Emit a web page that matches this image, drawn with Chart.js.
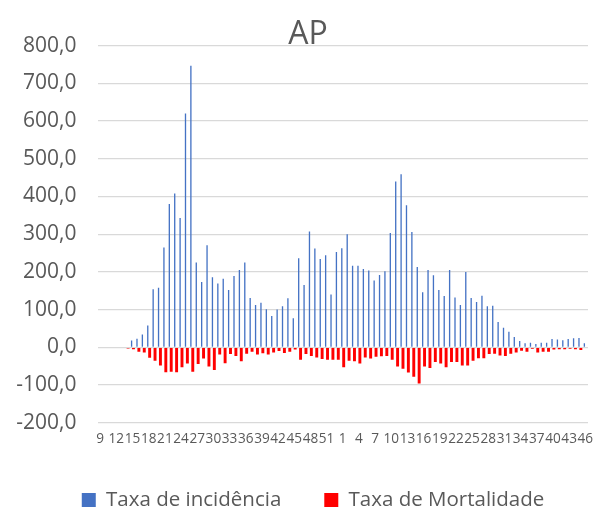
<!DOCTYPE html>
<html>
<head>
<meta charset="utf-8">
<script src="https://cdn.jsdelivr.net/npm/chart.js@4/dist/chart.umd.min.js"></script>
<style>
    body { margin: 0; background: #fff; }
    #box { width: 603px; height: 512px; }
</style>
</head>
<body>
<div id="box"><canvas id="apChart"></canvas></div>
<script>
/* ---------- DATA ---------- */
let weeks = [
    "9", "10", "11", "12", "13", "14", "15", "16", "17", "18", "19", "20", "21", "22", "23",
    "24", "25", "26", "27", "28", "29", "30", "31", "32", "33", "34", "35", "36", "37", "38",
    "39", "40", "41", "42", "43", "44", "45", "46", "47", "48", "49", "50", "51", "52", "53",
    "1", "2", "3", "4", "5", "6", "7", "8", "9", "10", "11", "12", "13", "14", "15", "16",
    "17", "18", "19", "20", "21", "22", "23", "24", "25", "26", "27", "28", "29", "30", "31",
    "32", "33", "34", "35", "36", "37", "38", "39", "40", "41", "42", "43", "44", "45", "46"
];

let incidencia = [
    null, null, null, null, null, null, 18, 23, 34, 58, 154, 158, 265, 380, 408,
    343, 620, 747, 225, 173, 271, 186, 169, 182, 152, 189, 205, 225, 131, 112,
    118, 101, 83, 100, 109, 130, 77, 236, 165, 307, 262, 234, 244, 140, 253,
    263, 300, 216, 216, 208, 204, 177, 192, 202, 303, 440, 459, 377, 306, 213, 146,
    205, 191, 152, 136, 205, 132, 112, 200, 131, 120, 137, 109, 110, 67, 52,
    41, 27, 17, 11, 12, 9, 12, 12, 22, 21, 19, 22, 24, 25, 11
];

let mortalidade = [
    null, null, null, null, null, -3, -5, -12, -14, -28, -36, -48, -66, -65, -66,
    -53, -43, -65, -44, -30, -51, -60, -19, -42, -18, -23, -37, -17, -12, -19,
    -16, -19, -14, -10, -15, -12, -6, -33, -18, -23, -27, -31, -33, -33, -33,
    -53, -36, -37, -43, -27, -30, -25, -24, -23, -33, -51, -57, -67, -78, -96, -51,
    -55, -39, -43, -53, -39, -39, -48, -48, -36, -29, -29, -18, -17, -22, -23,
    -17, -14, -9, -12, -4, -14, -12, -12, -6, -5, -5, -4, -5, -7, -2
];

let yMin = -200;
let yMax = 800;
let yStep = 100;

/* ---------- CHART ---------- */
let gray = "#595959";
let font = "'Open Sans', sans-serif";

// title and legend sit a little right of the canvas centre in the original
let shiftBlocks = {
    id: "shiftBlocks",
    afterLayout(chart) {
        chart.titleBlock.left += 14;
        chart.legend.left += 24;
    }
};

let ctx = document.getElementById("apChart").getContext("2d");

let chart = new Chart(ctx, {
    type: "bar",
    data: {
        labels: weeks,
        datasets: [
            {
                label: "Taxa de incidência",
                data: incidencia,
                backgroundColor: "#4472C4",
                barPercentage: 0.7
            },
            {
                label: "Taxa de Mortalidade",
                data: mortalidade,
                backgroundColor: "#FF0000",
                barPercentage: 1.55
            }
        ]
    },
    options: {
        responsive: true,
        maintainAspectRatio: false,
        animation: false,
        categoryPercentage: 0.7,
        layout: { padding: { left: 14, right: 15, top: 0, bottom: -8.25 } },
        plugins: {
            title: {
                display: true,
                text: "AP",
                color: gray,
                font: { family: font, size: 32, weight: "normal", lineHeight: 0.7 },
                padding: { top: 23.3, bottom: 0 }
            },
            legend: {
                position: "bottom",
                labels: {
                    color: gray,
                    font: { family: font, size: 20.5 },
                    boxWidth: 14,
                    boxHeight: 14,
                    padding: 43
                }
            },
            tooltip: { enabled: false }
        },
        scales: {
            x: {
                grid: { display: false, drawTicks: false },
                border: { display: false },
                ticks: {
                    color: gray,
                    font: { family: font, size: 13.6 },
                    autoSkip: false,
                    maxRotation: 0,
                    minRotation: 0,
                    padding: 8,
                    callback: function (value, index) {
                        return index % 3 === 0 ? this.getLabelForValue(value) : "";
                    }
                },
                afterFit: s => { s.height = 24.05; }
            },
            y: {
                min: yMin,
                max: yMax,
                grid: { color: "#d9d9d9", lineWidth: 1.3, drawTicks: false },
                border: { display: false },
                ticks: {
                    stepSize: yStep,
                    color: gray,
                    font: { family: font, size: 21 },
                    padding: 21,
                    callback: v => v.toFixed(1).replace(".", ",")
                },
                afterFit: s => { s.width = 83.5; }
            }
        }
    },
    plugins: [shiftBlocks]
});
</script>
</body>
</html>
